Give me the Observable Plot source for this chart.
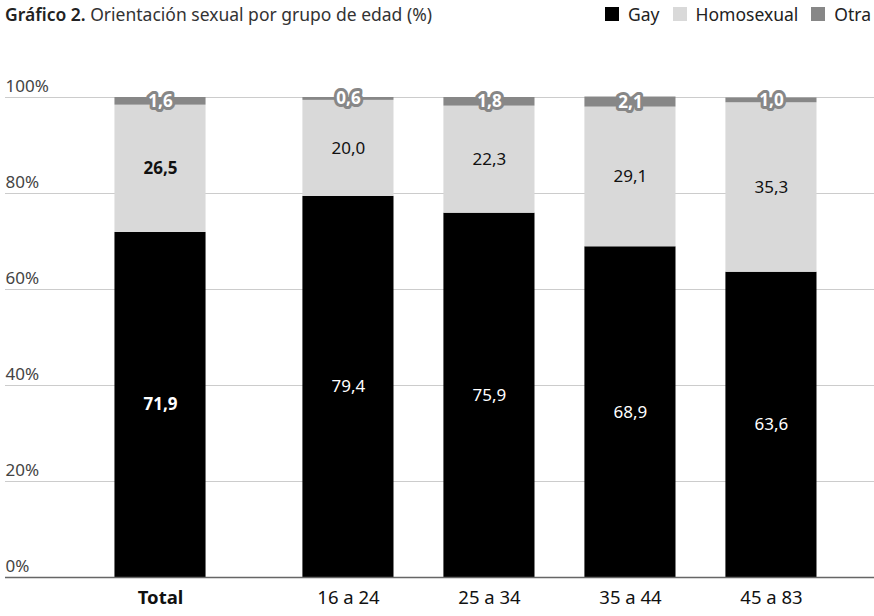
<!DOCTYPE html>
<html><head><meta charset="utf-8">
<script src="https://cdn.jsdelivr.net/npm/d3@7"></script>
<script src="https://cdn.jsdelivr.net/npm/@observablehq/plot@0.6"></script>
<style>
body{margin:0;background:#fff;font-family:"Noto Sans",sans-serif;}
#wrap{position:relative;width:874px;}
#head{position:relative;height:40px;}
#title{position:absolute;left:5px;top:2px;font-size:17.5px;color:#333;white-space:nowrap;}
#title b{font-weight:600;color:#222;}
#legend{position:absolute;right:3px;top:2px;font-size:17.5px;color:#222;display:flex;align-items:center;}
#legend span.sw{display:inline-block;width:14px;height:14px;margin-right:9px;}
#legend span.it{display:flex;align-items:center;margin-left:13px;}
</style></head><body>
<div id="wrap">
<div id="head"><div id="title"><b>Gráfico 2.</b> Orientación sexual por grupo de edad (%)</div><div id="legend"></div></div>
<div id="chart"></div>
</div>
<script>
const categories = ["Total", "16 a 24", "25 a 34", "35 a 44", "45 a 83"];
const series = ["Gay", "Homosexual", "Otra"];
const colors = ["#000000", "#d9d9d9", "#878787"];
const gay = [71.9, 79.4, 75.9, 68.9, 63.6];
const homosexual = [26.5, 20.0, 22.3, 29.1, 35.3];
const otra = [1.6, 0.6, 1.8, 2.1, 1.0];
const yTicks = [0, 20, 40, 60, 80, 100];

// legend
const leg = document.getElementById("legend");
series.forEach((s, i) => {
  const it = document.createElement("span"); it.className = "it";
  it.innerHTML = `<span class="sw" style="background:${colors[i]}"></span>${s}`;
  leg.appendChild(it);
});

// layout slot: Total separated from age groups by an extra gap
const slot = i => i === 0 ? 0 : i + 0.333;
const hw = 0.323;
const vals = [gay, homosexual, otra];
const rows = [];
categories.forEach((c, i) => {
  let acc = 0;
  series.forEach((s, j) => {
    const v = vals[j][i];
    rows.push({cat: c, pos: slot(i), series: s, value: v, y1: acc, y2: acc + v});
    acc += v;
  });
});
const fmt = v => v.toFixed(1).replace(".", ",");
const mid = d => (d.y1 + d.y2) / 2;
const cats = categories.map((c, i) => ({cat: c, pos: slot(i)}));
const ff = "Noto Sans, sans-serif";

const chart = Plot.plot({
  width: 874, height: 576,
  marginLeft: 5, marginRight: 0, marginTop: 57, marginBottom: 39,
  style: {fontFamily: ff, background: "#fff"},
  x: {domain: [-155/141, 714/141], axis: null},
  y: {domain: [0, 100], axis: null},
  color: {domain: series, range: colors},
  marks: [
    Plot.ruleY(yTicks.filter(t => t > 0), {stroke: "#cccccc", strokeWidth: 1}),
    Plot.text(yTicks, {y: d => d, frameAnchor: "left", textAnchor: "start", dy: -11, text: d => d + "%", fontSize: 17, fill: "#444"}),
    Plot.rectY(rows, {x1: d => d.pos - hw, x2: d => d.pos + hw, y1: "y1", y2: "y2", fill: "series"}),
    Plot.ruleY([0], {stroke: "#666", strokeWidth: 1.5}),
    // Gay labels
    Plot.text(rows.filter(d => d.series === "Gay" && d.cat !== "Total"), {x: "pos", y: mid, text: d => fmt(d.value), fill: "#fff", fontSize: 17}),
    Plot.text(rows.filter(d => d.series === "Gay" && d.cat === "Total"), {x: "pos", y: mid, text: d => fmt(d.value), fill: "#fff", fontSize: 17, fontWeight: "bold"}),
    // Homosexual labels
    Plot.text(rows.filter(d => d.series === "Homosexual" && d.cat !== "Total"), {x: "pos", y: mid, text: d => fmt(d.value), fill: "#111", fontSize: 17}),
    Plot.text(rows.filter(d => d.series === "Homosexual" && d.cat === "Total"), {x: "pos", y: mid, text: d => fmt(d.value), fill: "#111", fontSize: 17, fontWeight: "bold"}),
    // Otra labels with halo
    Plot.text(rows.filter(d => d.series === "Otra"), {x: "pos", y: mid, text: d => fmt(d.value), fill: "#fff", stroke: "#878787", strokeWidth: 6, fontSize: 17, fontWeight: "bold"}),
    // category labels
    Plot.text(cats.filter(d => d.cat !== "Total"), {x: "pos", frameAnchor: "bottom", dy: 26, text: "cat", fill: "#111", fontSize: 18.5}),
    Plot.text(cats.filter(d => d.cat === "Total"), {x: "pos", frameAnchor: "bottom", dy: 26, text: "cat", fill: "#111", fontSize: 18.5, fontWeight: "bold"})
  ]
});
document.getElementById("chart").appendChild(chart);
</script>
</body></html>
